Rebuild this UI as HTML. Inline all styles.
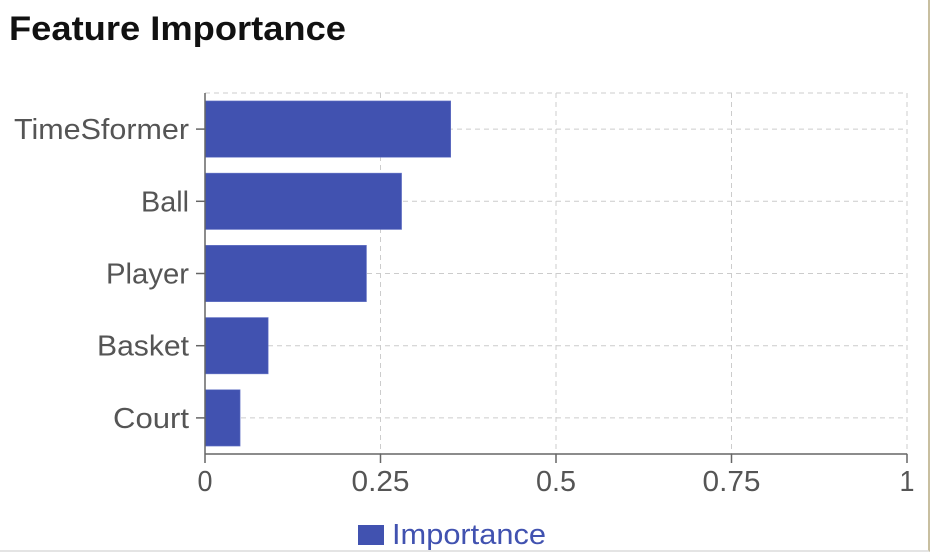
<!DOCTYPE html>
<html><head><meta charset="utf-8"><style>
body{margin:0;background:#fff;width:930px;height:552px;overflow:hidden;font-family:"Liberation Sans",sans-serif;}
#frame{position:absolute;left:0;top:0;width:928px;height:550px;border-right:2px solid #c8bfa0;border-bottom:2px solid #e4e4e4;box-sizing:content-box;}
</style></head><body>
<div id="frame"></div>
<svg id="chart" width="930" height="552" style="position:absolute;left:0;top:0">
<text x="9" y="40" font-size="34" font-weight="bold" fill="#111" textLength="337" lengthAdjust="spacingAndGlyphs">Feature Importance</text>
</svg>
<script>
const categories=["TimeSformer","Ball","Player","Basket","Court"];
const importance=[0.35,0.28,0.23,0.09,0.05];
const xTicks=[0,0.25,0.5,0.75,1];
const xTickLabels=["0","0.25","0.5","0.75","1"];
const L=205,R=907,T=93,B=454;
const NS="http://www.w3.org/2000/svg";
const svg=document.getElementById('chart');
const x=v=>L+v*(R-L);
const band=(B-T)/categories.length;
const y=i=>T+i*band;
const FS=29;
function mk(t,a,p){const e=document.createElementNS(NS,t);for(const k in a)e.setAttribute(k,a[k]);(p||svg).appendChild(e);return e;}
function tl(s){return s.length*15;}
const grid=mk('g',{});


xTicks.forEach(v=>{mk('line',{x1:x(v),x2:x(v),y1:T,y2:B,stroke:'#ccc','stroke-dasharray':'5 4','stroke-width':1},grid);});
mk('line',{x1:L,x2:R,y1:T,y2:T,stroke:'#ccc','stroke-dasharray':'5 4'},grid);
categories.forEach((c,i)=>{const cy=y(i)+band/2;mk('line',{x1:L,x2:R,y1:cy,y2:cy,stroke:'#ccc','stroke-dasharray':'5 4'},grid);});
const yLens={"TimeSformer":175,"Ball":48,"Player":83,"Basket":92,"Court":76};
categories.forEach((c,i)=>{
 const r=mk('rect',{x:L,y:y(i)+band*0.11,width:x(importance[i])-L,height:band*0.78,fill:'#4152b0',stroke:'#6a78c8','stroke-width':0.6});
 
 
 const ty=y(i)+band/2;
 mk('line',{x1:L-9,x2:L,y1:ty,y2:ty,stroke:'#666','stroke-width':1.5});
 const t=mk('text',{x:L-16,y:ty+10,'text-anchor':'end','font-size':FS,fill:'#555',textLength:yLens[c]||tl(c),lengthAdjust:'spacingAndGlyphs'});
 t.textContent=c;
 
 
});
mk('line',{x1:L,x2:L,y1:T,y2:B,stroke:'#666','stroke-width':1.5});
mk('line',{x1:L,x2:R,y1:B,y2:B,stroke:'#666','stroke-width':1.5});
xTicks.forEach((v,i)=>{
 mk('line',{x1:x(v),x2:x(v),y1:B,y2:B+9,stroke:'#666','stroke-width':1.5});
 const s=xTickLabels[i];
 const len=s.length==1?15:(s.length==3?40:58);
 const t=mk('text',{x:x(v),y:B+37,'text-anchor':'middle','font-size':FS,fill:'#555',textLength:len,lengthAdjust:'spacingAndGlyphs'});
 t.textContent=s;
 
 
});
const lg=mk('g',{});


mk('rect',{x:358,y:525,width:26,height:20,fill:'#4152b0'},lg);
const lt=mk('text',{x:392,y:544,'font-size':FS,fill:'#4152b0',textLength:154,lengthAdjust:'spacingAndGlyphs'},lg);
lt.textContent='Importance';
</script>
</body></html>
